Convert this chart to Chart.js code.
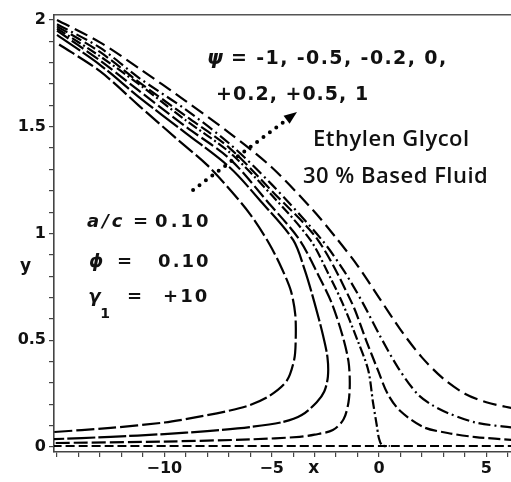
<!DOCTYPE html>
<html>
<head>
<meta charset="utf-8">
<script src="https://cdn.jsdelivr.net/npm/chart.js@4.4.0/dist/chart.umd.min.js"></script>
<style>
	html, body { margin: 0; padding: 0; background: #fff; }
	#wrap { position: relative; width: 511px; height: 482px; }
</style>
</head>
<body>
<div id="wrap"><canvas id="myChart" width="511" height="482"></canvas></div>
<script>
// streamline values, one curve per psi
var psiLabels = ['-1', '-0.5', '-0.2', '0', '+0.2', '+0.5', '1'];

var psiNeg1X = [-14.9, -13.0, -11.2, -9.5, -8.0, -6.9, -6.0, -5.1, -4.5, -4.1, -3.9, -3.88, -3.95, -4.3, -5.1, -6.0, -7.0, -8.5, -10.0, -12.5, -15.2];
var psiNeg1Y = [1.885, 1.76, 1.60, 1.45, 1.32, 1.20, 1.09, 0.95, 0.83, 0.73, 0.62, 0.50, 0.41, 0.31, 0.24, 0.197, 0.17, 0.14, 0.115, 0.09, 0.07];

var psiNeg05X = [-15.0, -13.0, -11.2, -9.0, -6.96, -5.5, -4.0, -3.46, -3.0, -2.6, -2.4, -2.38, -2.55, -2.9, -3.6, -4.5, -6.0, -8.0, -10.0, -12.5, -15.2];
var psiNeg05Y = [1.93, 1.79, 1.64, 1.47, 1.31, 1.15, 0.97, 0.83, 0.674, 0.52, 0.42, 0.33, 0.26, 0.21, 0.15, 0.117, 0.094, 0.075, 0.061, 0.048, 0.037];

var psiNeg02X = [-15.0, -13.0, -11.2, -9.0, -6.96, -5.2, -3.7, -2.8, -2.2, -1.68, -1.42, -1.36, -1.42, -1.65, -2.15, -3.0, -3.7, -6.0, -10.0, -15.2];
var psiNeg02Y = [1.95, 1.81, 1.67, 1.50, 1.35, 1.15, 0.97, 0.80, 0.674, 0.515, 0.40, 0.30, 0.21, 0.13, 0.08, 0.058, 0.048, 0.036, 0.026, 0.019];

var psi0X = [-15.0, -13.0, -11.2, -9.0, -6.96, -5.0, -3.2, -2.3, -1.7, -1.0, -0.5, -0.28, -0.1, 0.0, 0.15, 0.5];
var psi0Y = [1.96, 1.83, 1.70, 1.53, 1.38, 1.18, 0.97, 0.80, 0.674, 0.50, 0.36, 0.21, 0.10, 0.04, 0.008, 0.005];

var wallX = [-15.2, 6.3];
var wallY = [0.005, 0.005];

var psiPos02X = [-15.0, -13.0, -11.2, -9.0, -6.96, -5.0, -2.85, -1.26, -0.6, -0.05, 0.4, 0.98, 2.06, 3.2, 4.5, 6.3];
var psiPos02Y = [1.97, 1.85, 1.71, 1.55, 1.40, 1.20, 0.97, 0.674, 0.50, 0.36, 0.25, 0.17, 0.094, 0.066, 0.047, 0.033];

var psiPos05X = [-15.0, -13.0, -11.2, -9.0, -6.96, -5.0, -2.66, -1.6, -0.75, 0.05, 0.9, 1.78, 2.5, 3.2, 4.5, 6.3];
var psiPos05Y = [1.98, 1.87, 1.73, 1.58, 1.42, 1.23, 0.97, 0.82, 0.674, 0.52, 0.37, 0.25, 0.195, 0.16, 0.115, 0.09];

var psiPos1X = [-15.0, -13.0, -11.2, -9.0, -6.96, -5.0, -3.08, -2.0, -1.0, 0.0, 1.0, 2.0, 3.0, 4.0, 5.0, 6.3];
var psiPos1Y = [2.0, 1.895, 1.775, 1.62, 1.47, 1.31, 1.11, 0.98, 0.85, 0.70, 0.55, 0.42, 0.32, 0.25, 0.21, 0.18];

// tick labels
var xLabelValues = [-10, -5, 0, 5];
var xLabelTexts = ['\u221210', '\u22125', '0', '5'];
var yLabelValues = [0, 0.5, 1, 1.5, 2];
var yLabelTexts = ['0', '0.5', '1', '1.5', '2'];

var xMin = -15.14, xMax = 6.15;
var yMin = -0.023, yMax = 2.023;

function toPoints(xs, ys) {
	return xs.map(function(x, i) { return { x: x, y: ys[i] }; });
}

function lineSet(label, xs, ys, dash) {
	return {
		label: label,
		data: toPoints(xs, ys),
		showLine: true,
		borderColor: '#000',
		borderWidth: 2.2,
		borderDash: dash,
		pointRadius: 0,
		tension: 0.3,
		fill: false
	};
}

function labelFor(values, texts, v) {
	for (var i = 0; i < values.length; i++) {
		if (Math.abs(values[i] - v) < 1e-6) return texts[i];
	}
	return '';
}

// only keep whole steps that fall inside the axis range
function keepSteps(step, lo, hi) {
	return function(axis) {
		axis.ticks = axis.ticks.filter(function(t) {
			var k = t.value / step;
			return Math.abs(k - Math.round(k)) < 1e-6 && t.value >= lo && t.value <= hi;
		});
	};
}

// text and the dotted arrow drawn on top of the plot
var annotationPlugin = {
	id: 'annotations',
	afterDraw: function(chart) {
		var ctx = chart.ctx;
		var xs = chart.scales.x, ys = chart.scales.y;
		var area = chart.chartArea;
		function px(v) { return xs.getPixelForValue(v); }
		function py(v) { return ys.getPixelForValue(v); }
		function text(str, x, y, font, spacing) {
			ctx.font = font;
			ctx.letterSpacing = (spacing || 0) + 'px';
			ctx.fillText(str, x, y);
			var w = ctx.measureText(str).width;
			ctx.letterSpacing = '0px';
			return w;
		}

		ctx.save();
		ctx.fillStyle = '#111';
		ctx.textBaseline = 'alphabetic';
		ctx.textAlign = 'left';

		var bold19 = 'bold 19px "DejaVu Sans"';
		var it19 = 'italic bold 20px "DejaVu Sans"';
		var x0 = px(-8.01), y0 = py(1.794);
		var w = text('\u03C8', x0, y0, it19, 0);
		text(' = -1, -0.5, -0.2, 0,', x0 + w, y0, bold19, 1.4);
		text('+0.2, +0.5, 1', px(-7.59), py(1.625), bold19, 1);

		var sans = '600 22px "Open Sans"';
		text('Ethylen Glycol', px(-3.07), py(1.41), sans, 0.5);
		text('30 % Based Fluid', px(-3.54), py(1.237), sans, 0.5);

		var bold18 = 'bold 18px "DejaVu Sans"';
		var it18 = 'italic bold 18px "DejaVu Sans"';
		text('a/c', px(-13.6), py(1.03), it18, 3);
		text('=', px(-11.46), py(1.03), bold18, 0);
		text('0.10', px(-10.43), py(1.03), bold18, 3);

		text('\u03D5', px(-13.51), py(0.843), it18, 0);
		text('=', px(-12.2), py(0.843), bold18, 0);
		text('0.10', px(-10.29), py(0.843), bold18, 2);

		text('\u03B3', px(-13.55), py(0.679), it18, 0);
		text('1', px(-12.99), py(0.604), 'bold 14px "DejaVu Sans"', 0);
		text('=', px(-11.74), py(0.679), bold18, 0);
		text('+10', px(-10.06), py(0.679), bold18, 2);

		// axis titles
		text('y', area.left - 34, py(0.824), 'bold 17px "DejaVu Sans"', 0);
		text('x', px(-3.3), area.bottom + 21, 'bold 17px "DejaVu Sans"', 0);

		// dotted arrow
		var ax = px(-8.66), ay = py(1.204);
		var bx = px(-3.82), by = py(1.569);
		var ang = Math.atan2(by - ay, bx - ax);
		var headLen = 13;
		var ex = bx - Math.cos(ang) * headLen, ey = by - Math.sin(ang) * headLen;
		ctx.strokeStyle = '#000';
		ctx.lineWidth = 4;
		ctx.lineCap = 'round';
		ctx.setLineDash([0, 8]);
		ctx.beginPath();
		ctx.moveTo(ax, ay);
		ctx.lineTo(ex, ey);
		ctx.stroke();
		ctx.setLineDash([]);
		ctx.fillStyle = '#000';
		ctx.beginPath();
		ctx.moveTo(bx, by);
		ctx.lineTo(ex + Math.sin(ang) * 5, ey - Math.cos(ang) * 5);
		ctx.lineTo(ex - Math.sin(ang) * 5, ey + Math.cos(ang) * 5);
		ctx.closePath();
		ctx.fill();
		ctx.restore();
	}
};

var tickFont = { family: 'DejaVu Sans', size: 16, weight: 'bold' };

var ctx = document.getElementById('myChart');
var myChart = new Chart(ctx, {
	type: 'scatter',
	data: {
		datasets: [
			lineSet('psi = ' + psiLabels[0], psiNeg1X, psiNeg1Y, [18, 4]),
			lineSet('psi = ' + psiLabels[1], psiNeg05X, psiNeg05Y, [28, 3]),
			lineSet('psi = ' + psiLabels[2], psiNeg02X, psiNeg02Y, [14, 4]),
			lineSet('psi = ' + psiLabels[3], psi0X, psi0Y, [10, 3, 2, 3]),
			lineSet('wall', wallX, wallY, [9, 4]),
			lineSet('psi = ' + psiLabels[4], psiPos02X, psiPos02Y, [12, 4]),
			lineSet('psi = ' + psiLabels[5], psiPos05X, psiPos05Y, [12, 4, 2, 4]),
			lineSet('psi = ' + psiLabels[6], psiPos1X, psiPos1Y, [14, 6])
		]
	},
	options: {
		responsive: false,
		animation: false,
		devicePixelRatio: 1,
		layout: { padding: 0 },
		plugins: {
			legend: { display: false },
			tooltip: { enabled: false }
		},
		scales: {
			x: {
				type: 'linear',
				position: 'bottom',
				min: xMin,
				max: xMax,
				afterBuildTicks: keepSteps(1, xMin, xMax),
				afterFit: function(s) { s.height = 30; },
				ticks: {
					stepSize: 1,
					includeBounds: false,
					autoSkip: false,
					maxRotation: 0,
					padding: 2,
					color: '#111',
					font: tickFont,
					callback: function(v) { return labelFor(xLabelValues, xLabelTexts, v); }
				},
				grid: { drawOnChartArea: false, drawTicks: true, tickLength: 5, color: '#444', lineWidth: 1.2 },
				border: { display: true, color: '#444', width: 1.6 }
			},
			xTop: {
				type: 'linear',
				position: 'top',
				min: xMin,
				max: xMax,
				afterFit: function(s) { s.height = 15; },
				ticks: { display: false },
				grid: { display: false },
				border: { display: true, color: '#555', width: 1.6 }
			},
			y: {
				type: 'linear',
				position: 'left',
				min: yMin,
				max: yMax,
				afterBuildTicks: keepSteps(0.1, yMin, yMax),
				afterFit: function(s) { s.width = 54; },
				ticks: {
					stepSize: 0.1,
					includeBounds: false,
					autoSkip: false,
					padding: 3,
					color: '#111',
					font: tickFont,
					callback: function(v) { return labelFor(yLabelValues, yLabelTexts, v); }
				},
				grid: { drawOnChartArea: false, drawTicks: true, tickLength: 5, color: '#444', lineWidth: 1.2 },
				border: { display: true, color: '#444', width: 1.6 }
			}
		}
	},
	plugins: [annotationPlugin]
});
</script>
</body>
</html>
